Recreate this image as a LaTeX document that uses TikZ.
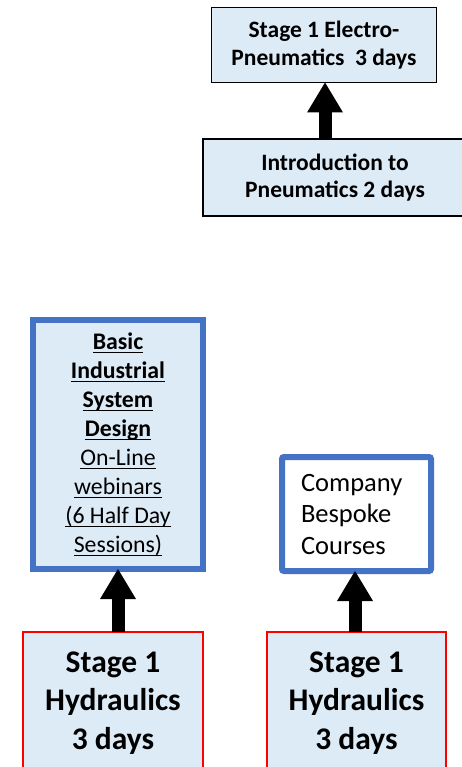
\documentclass[tikz,border=0pt]{standalone}
\usepackage{fontspec}
\setmainfont{Carlito}
\usetikzlibrary{arrows.meta}
\definecolor{boxfill}{RGB}{221,235,247}
\definecolor{boxblue}{RGB}{68,114,196}
\definecolor{boxred}{RGB}{255,0,0}
\newcommand\myul[1]{\setbox0\hbox{#1}\rlap{\rule[-3.5pt]{\wd0}{1.4pt}}\box0}
\tikzset{
  greybox/.style={draw=black, line width=1.6pt, fill=boxfill, outer sep=0pt, inner sep=0pt, align=center, font=\bfseries\fontsize{23.5}{27.5}\selectfont},
  bluebox/.style={draw=boxblue, line width=6pt, outer sep=0pt, inner sep=0pt},
  redbox/.style={draw=boxred, line width=1.8pt, fill=boxfill, outer sep=0pt, inner sep=0pt, align=center, font=\bfseries\fontsize{31.5}{38.5}\selectfont},
  fatarrow/.style={line width=13pt, -{Triangle[width=36pt,length=30pt,line width=0pt]}, black}
}
\begin{document}
\begin{tikzpicture}[x=1pt,y=-1pt]
\useasboundingbox (0,0) rectangle (462,767);
% top boxes
\node[greybox, minimum width=225pt, minimum height=75pt] (elec) at (324,45) {Stage 1 Electro-\\Pneumatics\ \ 3 days};
\node[greybox, minimum width=264pt, minimum height=77pt, anchor=north west] (intro) at (203,139) {\hspace*{-4pt}Introduction to\hspace*{-4pt}\\\hspace*{-4pt}Pneumatics 2 days\hspace*{-4pt}\vphantom{g}};
% basic industrial
\node[bluebox, fill=boxfill, minimum width=170pt, minimum height=249pt, align=center, font=\fontsize{23.8}{29}\selectfont] (basic) at (118,444.5)
  {\textbf{\myul{Basic}}\\\textbf{\myul{Industrial}}\\\textbf{\myul{System}}\\\textbf{\myul{Design}}\\\myul{On-Line}\\\myul{webinars}\\\myul{(6 Half Day}\\\myul{Sessions)}};
% company bespoke
\node[bluebox, fill=white, rounded corners=2pt, minimum width=149pt, minimum height=114pt, align=left, text width=111pt, inner xsep=0pt, font=\fontsize{26.5}{31.5}\selectfont] (bespoke) at (356.5,514)
  {Company\\Bespoke\\Courses};
% bottom red boxes
\node[redbox, minimum width=180pt, minimum height=142pt, anchor=north west] (hydl) at (23,632) {Stage 1\\Hydraulics\\3 days};
\node[redbox, minimum width=179pt, minimum height=142pt, anchor=north west] (hydr) at (267,632) {Stage 1\\Hydraulics\\3 days};
% arrows
\draw[fatarrow] (intro.north -| 325,0) -- (elec.south -| 325,0);
\draw[fatarrow] (hydl.north -| basic.south) -- (basic.south);
\draw[fatarrow] (hydr.north -| 355,0) -- (bespoke.south -| 355,0);
\end{tikzpicture}
\end{document}
